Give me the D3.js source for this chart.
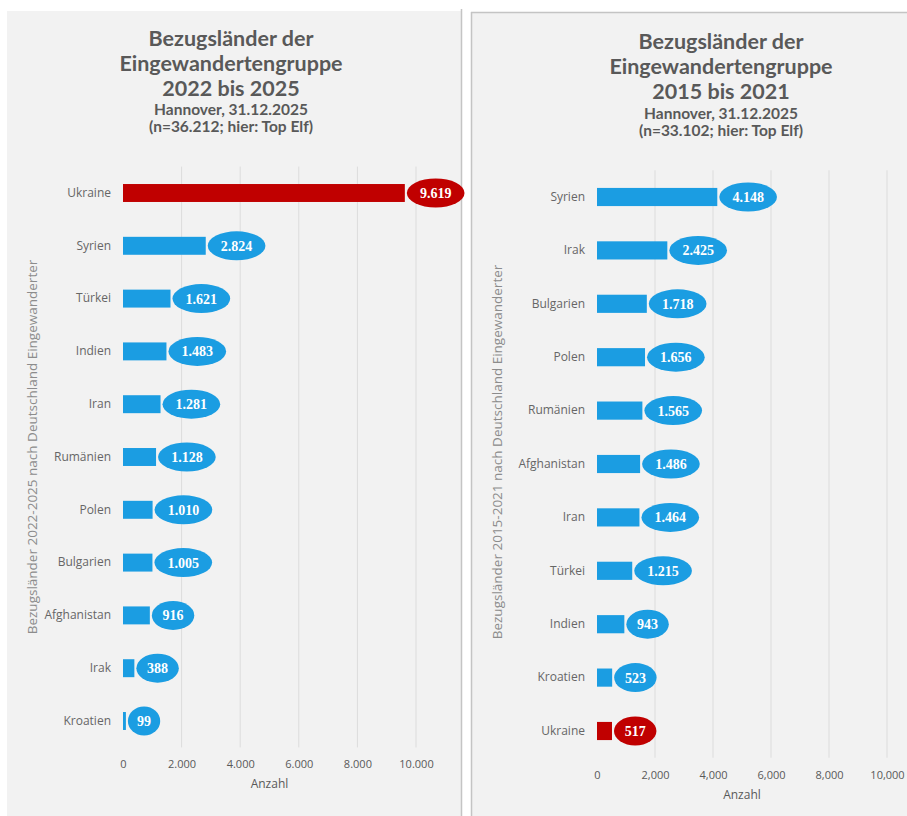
<!DOCTYPE html>
<html>
<head>
<meta charset="utf-8">
<script src="https://cdn.jsdelivr.net/npm/d3@7/dist/d3.min.js"></script>
<style>
  html, body { margin: 0; padding: 0; background: #ffffff; }
  svg { display: block; }
</style>
</head>
<body>
<svg id="chart" width="907" height="816"></svg>
<script>
// ---------- DATA ----------
const leftCategories = ["Ukraine","Syrien","Türkei","Indien","Iran","Rumänien","Polen","Bulgarien","Afghanistan","Irak","Kroatien"];
const leftValues = [9619, 2824, 1621, 1483, 1281, 1128, 1010, 1005, 916, 388, 99];
const leftHighlight = ["Ukraine"];
const leftTitle = ["Bezugsländer der", "Eingewandertengruppe", "2022 bis 2025"];
const leftSubtitle = ["Hannover, 31.12.2025", "(n=36.212; hier: Top Elf)"];
const leftAxisTitle = "Bezugsländer 2022-2025 nach Deutschland Eingewanderter";

const rightCategories = ["Syrien","Irak","Bulgarien","Polen","Rumänien","Afghanistan","Iran","Türkei","Indien","Kroatien","Ukraine"];
const rightValues = [4148, 2425, 1718, 1656, 1565, 1486, 1464, 1215, 943, 523, 517];
const rightHighlight = ["Ukraine"];
const rightTitle = ["Bezugsländer der", "Eingewandertengruppe", "2015 bis 2021"];
const rightSubtitle = ["Hannover, 31.12.2025", "(n=33.102; hier: Top Elf)"];
const rightAxisTitle = "Bezugsländer 2015-2021 nach Deutschland Eingewanderter";

const tickValues = [0, 2000, 4000, 6000, 8000, 10000];
const leftTickLabels = ["0", "2.000", "4.000", "6.000", "8.000", "10.000"];
const rightTickLabels = ["0", "2,000", "4,000", "6,000", "8,000", "10,000"];
const xAxisTitle = "Anzahl";

// ---------- STYLE ----------
const BLUE = "#1b9de2";
const RED = "#c00000";
const TEXT = "#595959";
const deFmt = d3.formatLocale({decimal: ",", thousands: ".", grouping: [3], currency: ["", "€"]}).format(",d");

const svg = d3.select("#chart");
svg.append("rect").attr("width", 907).attr("height", 816).attr("fill", "#ffffff");

function drawPanel(cfg) {
  const g = svg.append("g");
  // panel background
  g.append("rect")
    .attr("x", cfg.panel[0]).attr("y", cfg.panel[1])
    .attr("width", cfg.panel[2]).attr("height", cfg.panel[3])
    .attr("fill", "#f2f2f2");
  // panel borders
  cfg.borders.forEach(b => {
    g.append("line").attr("x1", b[0]).attr("y1", b[1]).attr("x2", b[2]).attr("y2", b[3])
      .attr("stroke", "#c4c4c4").attr("stroke-width", 1.5);
  });

  const x = d3.scaleLinear().domain([0, 10000]).range(cfg.xRange);
  const y = d3.scaleBand().domain(cfg.categories).range(cfg.yRange)
    .paddingInner(0.66).paddingOuter(0.33);

  // gridlines
  g.append("g").selectAll("line")
    .data(tickValues.filter(d => d > 0))
    .join("line")
    .attr("x1", d => x(d)).attr("x2", d => x(d))
    .attr("y1", cfg.yRange[0]).attr("y2", cfg.yRange[1])
    .attr("stroke", "#dcdcdc").attr("stroke-width", 1);

  // x axis (labels only)
  const xAxis = d3.axisBottom(x).tickValues(tickValues)
    .tickFormat((d, i) => cfg.tickLabels[i]).tickSize(0).tickPadding(0);
  const ax = g.append("g").attr("transform", `translate(0,${cfg.tickY})`).call(xAxis);
  ax.select(".domain").remove();
  ax.selectAll("text")
    .attr("fill", TEXT).attr("dy", "0.35em")
    .style("font-family", "'Open Sans', sans-serif").style("font-size", "11px");

  g.append("text").attr("x", x(5000)).attr("y", cfg.tickY + 24)
    .attr("text-anchor", "middle").attr("fill", TEXT)
    .style("font-family", "'Open Sans', sans-serif").style("font-size", "12px")
    .text(xAxisTitle);

  // y axis category labels
  const yAxis = d3.axisLeft(y).tickSize(0).tickPadding(0);
  const ay = g.append("g").attr("transform", `translate(${cfg.xRange[0] - 12},0)`).call(yAxis);
  ay.select(".domain").remove();
  ay.selectAll("text")
    .attr("fill", "#666666")
    .style("font-family", "'Open Sans', sans-serif").style("font-size", "12px");

  // y axis title
  g.append("text")
    .attr("transform", `translate(${cfg.yTitlePos[0]},${cfg.yTitlePos[1]}) rotate(-90)`)
    .attr("text-anchor", "middle").attr("dy", "0.35em")
    .attr("fill", "#8c8c8c")
    .style("font-family", "'Open Sans', sans-serif").style("font-size", "13.5px")
    .text(cfg.axisTitle);

  const data = cfg.categories.map((c, i) => ({c, v: cfg.values[i], hi: cfg.highlight.includes(c)}));

  // bars
  g.append("g").selectAll("rect")
    .data(data).join("rect")
    .attr("x", x(0)).attr("y", d => y(d.c))
    .attr("width", d => x(d.v) - x(0)).attr("height", y.bandwidth())
    .attr("fill", d => d.hi ? RED : BLUE);

  // bubble labels
  const lab = g.append("g").selectAll("g").data(data).join("g");
  lab.append("ellipse");
  const txt = lab.append("text")
    .attr("text-anchor", "middle").attr("dy", "0.35em")
    .attr("fill", "#ffffff")
    .style("font-family", "'Liberation Serif', serif").style("font-size", "14px").style("font-weight", "bold")
    .text(d => deFmt(d.v));
  txt.each(function(d) {
    const w = this.getComputedTextLength();
    const rx = 1.45 * (w / 2) + 6;
    const cx = x(d.v) + 2 + rx;
    const cy = y(d.c) + y.bandwidth() / 2;
    d3.select(this).attr("x", cx).attr("y", cy);
    d3.select(this.parentNode).select("ellipse")
      .attr("cx", cx).attr("cy", cy).attr("rx", rx).attr("ry", 14.5)
      .attr("fill", d.hi ? RED : BLUE);
  });

  // titles
  cfg.title.forEach((t, i) => {
    g.append("text").attr("x", cfg.titleX).attr("y", cfg.titleY[i])
      .attr("text-anchor", "middle").attr("fill", TEXT)
      .style("font-family", "Lato, sans-serif").style("font-size", "21.5px").style("font-weight", "bold")
      .text(t);
  });
  cfg.subtitle.forEach((t, i) => {
    g.append("text").attr("x", cfg.titleX).attr("y", cfg.titleY[3 + i])
      .attr("text-anchor", "middle").attr("fill", TEXT)
      .style("font-family", "Lato, sans-serif").style("font-size", "15.5px").style("font-weight", "bold")
      .text(t);
  });
}

drawPanel({
  panel: [7, 11, 454, 812],
  borders: [[461.5, 9, 461.5, 816]],
  categories: leftCategories, values: leftValues, highlight: leftHighlight,
  xRange: [123, 416], yRange: [166.6, 747.4],
  tickLabels: leftTickLabels, tickY: 764,
  yTitlePos: [32, 447], axisTitle: leftAxisTitle,
  title: leftTitle, subtitle: leftSubtitle,
  titleX: 231, titleY: [46, 71, 96, 115, 132]
});

drawPanel({
  panel: [471, 12, 445, 812],
  borders: [[471.5, 12, 471.5, 816], [471, 12.5, 907, 12.5]],
  categories: rightCategories, values: rightValues, highlight: rightHighlight,
  xRange: [597, 887], yRange: [170.3, 757.7],
  tickLabels: rightTickLabels, tickY: 775,
  yTitlePos: [497, 452], axisTitle: rightAxisTitle,
  title: rightTitle, subtitle: rightSubtitle,
  titleX: 721, titleY: [49, 74, 99, 119, 136]
});
</script>
</body>
</html>
